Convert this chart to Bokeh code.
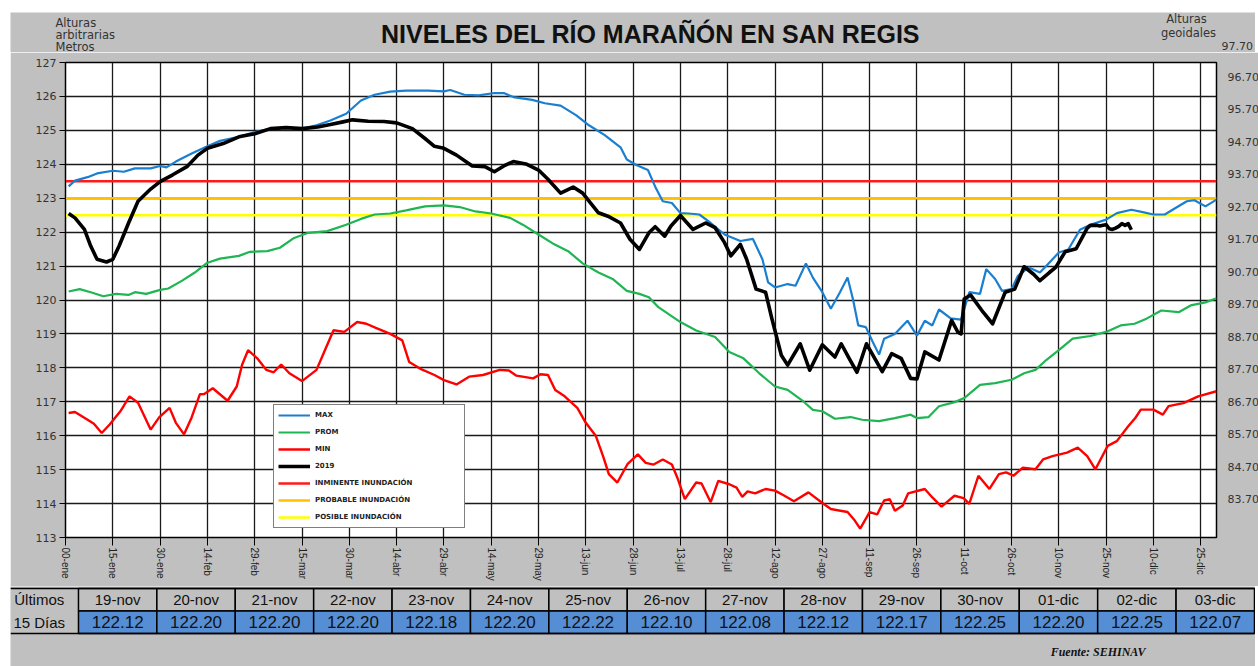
from bokeh.plotting import figure
from bokeh.models import (Range1d, LinearAxis, FixedTicker, Legend, LegendItem,
                          NumeralTickFormatter, ColumnDataSource)
from bokeh.layouts import column
from bokeh.core.properties import value
from bokeh.embed import file_html
from bokeh.resources import INLINE

# ---------------- data ----------------
tick_days = list(range(0, 361, 15))
tick_labels = ["00-ene", "15-ene", "30-ene", "14-feb", "29-feb", "15-mar", "30-mar", "14-abr",
               "29-abr", "14-may", "29-may", "13-jun", "28-jun", "13-jul", "28-jul", "12-ago",
               "27-ago", "11-sep", "26-sep", "11-oct", "26-oct", "10-nov", "25-nov", "10-dic",
               "25-dic"]
left_ticks = list(range(113, 128))
geo_ticks = [83.7, 84.7, 85.7, 86.7, 87.7, 88.7, 89.7, 90.7, 91.7, 92.7, 93.7, 94.7, 95.7, 96.7]

max_pts = [(1,123.35),(3,123.52),(7,123.62),(10,123.73),(15,123.81),(18.5,123.78),(22,123.88),(27,123.88),
           (30,123.95),(32,123.91),(35,124.08),(40,124.32),(45,124.53),(49,124.69),(55,124.81),(60,124.95),
           (65.5,125.05),(70,125.07),(75,125.05),(79.6,125.15),(84,125.29),(89,125.49),(93.7,125.88),
           (98,126.05),(103,126.14),(108,126.17),(115,126.17),(120,126.15),(122,126.19),(126.5,126.05),
           (131,126.03),(136,126.1),(139,126.1),(142,125.98),(148,125.9),(152,125.8),(157,125.73),
           (162,125.44),(166,125.15),(171,124.86),(176,124.5),(178,124.14),(181,123.98),(184.7,123.83),
           (187,123.34),(189.4,122.91),(192.3,122.86),(195,122.56),(197.6,122.55),(201,122.52),
           (204.6,122.27),(209,121.93),(214,121.74),(218,121.8),(221,121.2),(222.8,120.52),(225,120.37),
           (229,120.47),(231.5,120.42),(234.8,121.08),(237,120.66),(240,120.23),(242.7,119.74),
           (245.6,120.23),(248,120.66),(249.7,120.03),(251.4,119.25),(253.8,119.2),(256,118.76),
           (258,118.39),(259.6,118.86),(263,119.0),(267,119.39),(270,118.95),(272.5,119.39),
           (274.9,119.25),(277,119.72),(280.7,119.46),(284,119.42),(286.6,120.23),(290,120.18),
           (292,120.91),(294.8,120.62),(297,120.27),(300,120.32),(302,120.71),(305.5,120.96),
           (309,120.81),(311,121.0),(315,121.4),(318,121.49),(321.7,122.07),(325,122.22),(330,122.37),
           (333.4,122.56),(338,122.66),(341.6,122.59),(345,122.52),(348.6,122.52),(352,122.71),
           (355.6,122.91),(358,122.94),(361.5,122.76),(365,122.96)]

prom_pts = [(1,120.25),(4.5,120.32),(8,120.23),(12,120.11),(16,120.18),(20,120.15),(22,120.23),
            (25.6,120.18),(30,120.3),(32.6,120.34),(37,120.57),(41,120.81),(45,121.1),(49,121.22),
            (55,121.3),(58.5,121.42),(64,121.44),(68,121.54),(72.5,121.83),(77,121.98),(83,122.03),
            (89,122.22),(93.7,122.39),(98,122.52),(103,122.55),(108,122.64),(114,122.76),(120,122.79),
            (125,122.74),(130,122.61),(135,122.55),(141,122.42),(145,122.22),(150,121.93),(155,121.64),
            (159.4,121.44),(164,121.08),(169,120.81),(173.5,120.62),(178,120.27),(182,120.18),
            (185,120.08),(188,119.79),(195,119.35),(200,119.1),(206,118.91),(210.5,118.47),(215,118.28),
            (220,117.84),(225,117.45),(229,117.35),(234,117.01),(237,116.76),(240,116.72),(244,116.5),
            (249,116.55),(252.6,116.47),(258,116.43),(263,116.52),(268,116.62),(270,116.52),
            (273.7,116.55),(277,116.87),(282,116.99),(285,117.11),(290,117.5),(294.8,117.55),
            (300,117.65),(304,117.84),(307.6,117.94),(311,118.23),(315,118.52),(319.4,118.86),
            (325,118.94),(330,119.06),(334.6,119.25),(339,119.3),(342.8,119.45),(347.5,119.69),
            (353,119.64),(356.8,119.84),(361.5,119.93),(365,120.05)]

min_pts = [(1,116.67),(3,116.7),(7,116.47),(9,116.35),(11.5,116.08),(14,116.33),(17.4,116.72),
           (20.3,117.16),(23,116.97),(27,116.18),(29.7,116.54),(33,116.82),(35,116.38),(37.6,116.04),
           (40,116.54),(42.6,117.22),(44,117.23),(46.7,117.4),(51.4,117.03),(54.3,117.45),(56,118.09),
           (57.9,118.52),(60.8,118.28),(63.7,117.94),(66,117.87),(68.4,118.1),(71,117.84),(75,117.61),
           (79.6,117.94),(82.5,118.57),(85,119.11),(88.4,119.06),(92.5,119.35),(95.4,119.3),
           (98.4,119.18),(103,119.0),(106.8,118.81),(109,118.17),(112.4,117.98),(117,117.79),
           (120,117.64),(124,117.51),(128,117.74),(132.4,117.79),(137.7,117.94),(140.6,117.92),
           (143,117.77),(148.3,117.69),(150.6,117.81),(153,117.79),(155.3,117.35),(158.3,117.16),
           (162.3,116.82),(165,116.38),(168.2,115.99),(170.6,115.36),(172.3,114.87),(175,114.62),
           (178.2,115.16),(181.5,115.45),(184,115.2),(186.5,115.15),(189.4,115.3),(192.3,115.15),
           (194,114.77),(196.4,114.13),(200,114.62),(201.7,114.59),(204.6,114.04),(207,114.67),
           (210.5,114.57),(212.8,114.47),(214.6,114.2),(216.3,114.36),(218.7,114.3),(222,114.43),
           (225,114.38),(228,114.23),(231,114.07),(235.6,114.33),(239.7,114.04),(242.7,113.84),
           (248,113.75),(250.3,113.5),(252,113.26),(255,113.75),(257.4,113.68),(259.6,114.09),
           (261.4,114.13),(263,113.79),(265.5,113.94),(267.2,114.3),(272.5,114.43),(274.9,114.18),
           (277.8,113.91),(281.9,114.23),(284.8,114.16),(286.6,113.99),(289.5,114.82),(293,114.43),
           (296,114.87),(298.3,114.92),(300.6,114.82),(303.6,115.06),(307.6,115.01),(310,115.3),
           (313,115.4),(317.6,115.5),(321,115.65),(324,115.4),(326.6,115.01),(330.5,115.7),
           (333.4,115.84),(337,116.28),(339.3,116.53),(341,116.77),(345,116.77),(348,116.62),
           (349.8,116.87),(354.5,116.96),(359.2,117.16),(365,117.31)]

y2019_pts = [(1,122.55),(3,122.42),(6,122.08),(8,121.59),(10,121.2),(13,121.12),(15,121.2),(17,121.59),
             (20,122.27),(23,122.91),(27,123.27),(30,123.49),(34,123.69),(38.5,123.93),(42,124.27),
             (45,124.47),(50,124.61),(55,124.81),(60,124.9),(65,125.05),(70,125.08),(75,125.05),
             (80,125.1),(84,125.17),(88,125.25),(91,125.31),(96,125.27),(101,125.26),(105,125.22),
             (110,125.05),(114,124.76),(117,124.53),(120,124.47),(124,124.27),(129,123.95),(133,123.93),
             (136,123.78),(139,123.95),(142,124.08),(146,124.01),(150,123.83),(153,123.56),(157,123.15),
             (161,123.33),(164,123.15),(169,122.57),(172,122.47),(176,122.27),(179,121.79),(182,121.49),
             (185,121.98),(187,122.16),(190,121.88),(192,122.18),(195,122.49),(199,122.08),(203,122.27),
             (206,122.13),(209,121.69),(211,121.3),(214,121.64),(216,121.2),(219,120.32),(222,120.23),
             (224,119.45),(227,118.37),(229,118.08),(233,118.71),(236,117.93),(240,118.68),(244,118.32),
             (246,118.71),(248.5,118.28),(251,117.87),(254,118.71),(259,117.89),(262,118.42),
             (265,118.28),(268,117.69),(270,117.67),(272.5,118.47),(277,118.23),(281,119.4),(283,119.05),
             (284,119.0),(285,120.03),(287,120.15),(291,119.64),(294,119.3),(298,120.23),(301,120.32),
             (304,120.98),(307,120.76),(309,120.57),(312,120.81),(314,120.96),(317,121.42),
             (320.5,121.51)]

last_dates = ["19-nov", "20-nov", "21-nov", "22-nov", "23-nov", "24-nov", "25-nov", "26-nov",
              "27-nov", "28-nov", "29-nov", "30-nov", "01-dic", "02-dic", "03-dic"]
last_values = [122.12, 122.20, 122.20, 122.20, 122.18, 122.20, 122.22, 122.10, 122.08, 122.12,
               122.17, 122.25, 122.20, 122.25, 122.07]
last_days = list(range(324, 339))

thresholds = [123.5, 123.0, 122.5]
threshold_names = ["INMINENTE INUNDACIÓN", "PROBABLE INUNDACIÓN", "POSIBLE INUNDACIÓN"]

title_text = "NIVELES DEL RÍO MARAÑÓN EN SAN REGIS"
left_unit_lines = ["Alturas", "arbitrarias", "Metros"]
right_unit_lines = ["Alturas", "geoidales"]

# ---------------- styling / layout sizes ----------------
GRAY = "#c0c0c0"
NARROW = "'Liberation Sans Narrow', 'Liberation Sans', sans-serif"
W = 1245              # width of the gray panel
X0, X1 = 0, 365
FW, FH = 1151, 475
HEAD_H = 40
LEFT_B = 55


def no_align(fig):
    try:
        fig.frame_align = False
    except Exception:
        pass


# ---------------- header strip (title / unit captions) ----------------
h = figure(frame_width=W, frame_height=HEAD_H, x_range=Range1d(0, W), y_range=Range1d(HEAD_H, 0),
           output_backend="svg", toolbar_location=None, x_axis_location=None, y_axis_location=None,
           min_border=0, background_fill_color=GRAY, border_fill_color=GRAY, outline_line_color=None)
no_align(h)
h.title.text = ""
h.grid.visible = False
h.text(x=[640], y=[21], text=[title_text], text_align="center", text_baseline="middle",
       text_font=value("Liberation Sans"), text_font_style="bold", text_font_size="25px",
       text_color="#111111")
h.text(x=[45, 45, 45], y=[10, 22, 34], text=left_unit_lines, text_align="left",
       text_baseline="middle", text_font=value("DejaVu Sans"), text_font_size="11.5px",
       text_color="#333333")
h.text(x=[1176, 1178], y=[6, 20], text=right_unit_lines, text_align="center",
       text_baseline="middle", text_font=value("DejaVu Sans"), text_font_size="11.5px",
       text_color="#333333")
h.text(x=[1211], y=[33], text=["97.70"], text_align="left", text_baseline="middle",
       text_font=value("DejaVu Sans"), text_font_size="11px", text_color="#333333")

# ---------------- main chart ----------------
p = figure(frame_width=FW, frame_height=FH, x_range=Range1d(X0, X1), y_range=Range1d(113, 127),
           output_backend="svg", toolbar_location=None,
           min_border_left=LEFT_B, min_border_right=W - LEFT_B - FW, min_border_top=10,
           min_border_bottom=49,
           background_fill_color="white", border_fill_color=GRAY,
           outline_line_color="black", outline_line_width=1.5)
no_align(p)
p.title.text = ""

p.extra_y_ranges = {"geo": Range1d(82.53, 97.14)}

p.xaxis.ticker = FixedTicker(ticks=tick_days)
p.xaxis.major_label_overrides = {d: l for d, l in zip(tick_days, tick_labels)}
p.xaxis.major_label_orientation = "vertical"
p.xaxis.major_label_text_font = NARROW
p.xaxis.major_label_text_font_size = "10px"
p.xaxis.major_label_text_color = "#222222"
p.xaxis.major_tick_out = 8
p.xaxis.major_tick_in = 0
p.xaxis.major_label_standoff = 2
p.xaxis.minor_tick_line_color = None
p.xaxis.axis_line_color = "black"
p.xaxis.major_tick_line_color = "black"

p.yaxis.ticker = FixedTicker(ticks=left_ticks)
p.yaxis.major_label_text_font = "DejaVu Sans"
p.yaxis.major_label_text_font_size = "11px"
p.yaxis.major_label_text_color = "#333333"
p.yaxis.major_tick_out = 6
p.yaxis.major_tick_in = 0
p.yaxis.minor_tick_line_color = None
p.yaxis.axis_line_color = "black"
p.yaxis.major_label_standoff = 3

geo_axis = LinearAxis(y_range_name="geo", ticker=FixedTicker(ticks=geo_ticks),
                      formatter=NumeralTickFormatter(format="0.00"))
geo_axis.axis_line_color = None
geo_axis.major_tick_line_color = None
geo_axis.minor_tick_line_color = None
geo_axis.major_label_standoff = 5
geo_axis.major_label_text_font = "DejaVu Sans"
geo_axis.major_label_text_font_size = "11px"
geo_axis.major_label_text_color = "#333333"
p.add_layout(geo_axis, "right")

p.xgrid.ticker = FixedTicker(ticks=tick_days)
p.ygrid.ticker = FixedTicker(ticks=left_ticks)
for g in (p.xgrid, p.ygrid):
    g.grid_line_color = "#1a1a1a"
    g.grid_line_width = 1.3

thr_colors = ["#ff1a1a", "#ffc000", "#ffff00"]
thr_renderers = []
for t_val, c in zip(thresholds, thr_colors):
    thr_renderers.append(p.line([X0, X1], [t_val, t_val], line_color=c, line_width=2.5))


def xy(pts):
    return [a for a, b in pts], [b for a, b in pts]


r_prom = p.line(*xy(prom_pts), line_color="#1fb552", line_width=2.2)
r_min = p.line(*xy(min_pts), line_color="#ff0000", line_width=2.4)
r_max = p.line(*xy(max_pts), line_color="#1a7fd0", line_width=2.2)
x19, y19 = xy(y2019_pts)
x19 = x19 + last_days
y19 = y19 + last_values
r_2019 = p.line(x19, y19, line_color="black", line_width=3.6, line_join="round")

legend = Legend(items=[
    LegendItem(label="MAX", renderers=[r_max]),
    LegendItem(label="PROM", renderers=[r_prom]),
    LegendItem(label="MIN", renderers=[r_min]),
    LegendItem(label="2019", renderers=[r_2019]),
    LegendItem(label=threshold_names[0], renderers=[thr_renderers[0]]),
    LegendItem(label=threshold_names[1], renderers=[thr_renderers[1]]),
    LegendItem(label=threshold_names[2], renderers=[thr_renderers[2]]),
], location=(208, 9))
legend.label_text_font = "DejaVu Sans"
legend.label_text_font_size = "7px"
legend.label_text_font_style = "bold"
legend.label_text_color = "#222222"
legend.glyph_width = 32
legend.glyph_height = 12
legend.label_height = 12
legend.label_width = 145
legend.label_standoff = 5
legend.spacing = 5
legend.padding = 4
legend.margin = 0
legend.border_line_color = "black"
legend.border_line_width = 1.5
legend.background_fill_color = "white"
legend.background_fill_alpha = 1.0
p.add_layout(legend, "center")

# ---------------- table ----------------
TAB_H = 80
t = figure(frame_width=W, frame_height=TAB_H, x_range=Range1d(-0.867, 15.013),
           y_range=Range1d(-1.467, 2.089),
           output_backend="svg", toolbar_location=None, x_axis_location=None, y_axis_location=None,
           min_border=0, background_fill_color=GRAY, border_fill_color=GRAY, outline_line_color=None)
no_align(t)
t.title.text = ""
t.grid.visible = False

idx = [i + 0.5 for i in range(len(last_dates))]
src = ColumnDataSource(dict(x=idx, d=last_dates, v=["%.2f" % v for v in last_values]))
t.rect(x="x", y=1.5, width=1, height=1, source=src, fill_color=GRAY, line_color="black", line_width=1.5)
t.rect(x="x", y=0.5, width=1, height=1, source=src, fill_color="#558ed5", line_color="black", line_width=1.5)
t.segment(x0=[-0.867, -0.867], y0=[2, 0], x1=[15, 15], y1=[2, 0], line_color="black", line_width=1.5)
t.text(x="x", y=1.5, text="d", source=src, text_align="center", text_baseline="middle",
       text_font=value(NARROW), text_font_size="15px", text_color="#111111")
t.text(x="x", y=0.5, text="v", source=src, text_align="center", text_baseline="middle",
       text_font=value(NARROW), text_font_size="17px", text_color="#111111")
t.text(x=[-0.5, -0.5], y=[1.5, 0.5], text=["Últimos", "15 Días"], text_align="center",
       text_baseline="middle", text_font=value(NARROW), text_font_size="15px", text_color="#111111")
t.text(x=[12.4], y=[-0.84], text=["Fuente: SEHINAV"], text_align="left", text_baseline="middle",
       text_font=value("Liberation Serif"), text_font_style="bold italic", text_font_size="12px",
       text_color="#111111")

layout = column(h, p, t, spacing=0, margin=(12, 3, 0, 10))
open("out.html", "w").write(file_html(layout, INLINE))
